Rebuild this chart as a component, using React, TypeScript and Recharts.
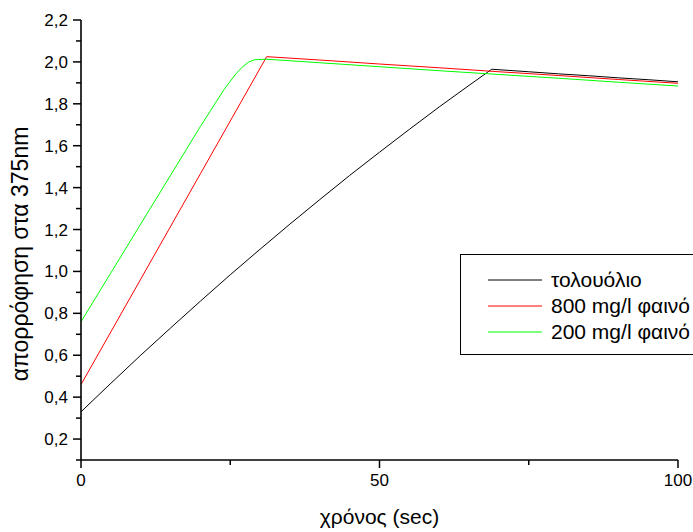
import React from 'react';
import { LineChart, Line, XAxis, YAxis, Label } from 'recharts';

// τολουόλιο
const tolueneTime = [0, 5, 10, 15, 20, 25, 30, 35, 40, 45, 50, 55, 60, 65, 68.8, 75, 80, 85, 90, 95, 100];
const tolueneAbs = [0.33, 0.466, 0.6, 0.73, 0.858, 0.984, 1.106, 1.226, 1.343, 1.458, 1.569, 1.678, 1.785, 1.888, 1.965, 1.953, 1.943, 1.934, 1.924, 1.915, 1.905];

// 800 mg/l φαινόλη
const phenol800Time = [0, 10, 20, 31.1, 40, 50, 60, 70, 80, 90, 100];
const phenol800Abs = [0.46, 0.963, 1.466, 2.025, 2.009, 1.99, 1.972, 1.953, 1.935, 1.916, 1.898];

// 200 mg/l φαινόλη
const phenol200Time = [0, 5, 10, 15, 20, 24, 26, 27, 28, 29, 31, 40, 50, 60, 70, 80, 90, 100];
const phenol200Abs = [0.76, 0.993, 1.226, 1.459, 1.692, 1.87, 1.945, 1.975, 1.998, 2.01, 2.013, 1.996, 1.977, 1.958, 1.94, 1.922, 1.903, 1.885];

const xTicks = [0, 25, 50, 75, 100];
const xLabelled = [0, 50, 100];
const yTicks = [0.1, 0.2, 0.3, 0.4, 0.5, 0.6, 0.7, 0.8, 0.9, 1.0, 1.1, 1.2, 1.3, 1.4, 1.5, 1.6, 1.7, 1.8, 1.9, 2.0, 2.1, 2.2];

// legend labels as they appear (cut at the right edge of the figure)
const legendLabels = ['τολουόλιο', '800 mg/l φαινό', '200 mg/l φαινό'];

const toPoints = (t: number[], v: number[]) => t.map((x, i) => ({ t: x, a: v[i] }));

const series = [
  { name: legendLabels[0], color: '#000000', data: toPoints(tolueneTime, tolueneAbs) },
  { name: legendLabels[1], color: '#ff0000', data: toPoints(phenol800Time, phenol800Abs) },
  { name: legendLabels[2], color: '#00ff00', data: toPoints(phenol200Time, phenol200Abs) },
];

const FONT = '"Liberation Sans", Arial, sans-serif';

const XTick = (props: any) => {
  const { x, y, payload } = props;
  const major = xLabelled.includes(payload.value);
  return (
    <g>
      <line x1={x} y1={y} x2={x} y2={y + (major ? 8 : 5)} stroke="#000" strokeWidth={1.5} />
      {major && (
        <text x={x} y={y + 26} textAnchor="middle" fontSize={17} fontFamily={FONT} fill="#000">
          {payload.value}
        </text>
      )}
    </g>
  );
};

const YTick = (props: any) => {
  const { x, y, payload } = props;
  const v = payload.value as number;
  const major = Math.round(v * 10) % 2 === 0;
  return (
    <g>
      <line x1={x} y1={y} x2={x - (major ? 8 : 5)} y2={y} stroke="#000" strokeWidth={1.5} />
      {major && (
        <text x={x - 13} y={y + 6} textAnchor="end" fontSize={17} fontFamily={FONT} fill="#000">
          {v.toFixed(1).replace('.', ',')}
        </text>
      )}
    </g>
  );
};

const LegendBox = () => (
  <div
    style={{
      position: 'absolute',
      left: 460,
      top: 254,
      width: 233,
      height: 101,
      boxSizing: 'border-box',
      border: '1px solid #000',
      borderRight: 'none',
      background: '#fff',
      overflow: 'hidden',
      paddingTop: 12,
      fontFamily: FONT,
      fontSize: 21,
    }}
  >
    {series.map((s) => (
      <div key={s.name} style={{ height: 26, display: 'flex', alignItems: 'center', whiteSpace: 'nowrap' }}>
        <svg width={90} height={26} style={{ flex: 'none' }}>
          <line x1={27} y1={13} x2={81} y2={13} stroke={s.color} strokeWidth={1} />
        </svg>
        <span style={{ color: '#000' }}>{s.name}</span>
      </div>
    ))}
  </div>
);

export default function App() {
  return (
    <div style={{ position: 'absolute', left: 0, top: 0, width: 693, height: 532, background: '#fff' }}>
      <LineChart
        width={693}
        height={532}
        margin={{ top: 20, right: 15, bottom: 42, left: 0 }}
        style={{ fontFamily: FONT }}
      >
        <XAxis
          dataKey="t"
          type="number"
          domain={[0, 100]}
          ticks={xTicks}
          interval={0}
          height={30}
          tickSize={0}
          tickMargin={0}
          tickLine={false}
          tick={<XTick />}
          axisLine={{ stroke: '#000', strokeWidth: 1.6 }}
          allowDataOverflow
        >
          <Label value="χρόνος (sec)" position="center" dy={42} fontSize={21} fill="#000" fontFamily={FONT} />
        </XAxis>
        <YAxis
          dataKey="a"
          type="number"
          domain={[0.1, 2.2]}
          ticks={yTicks}
          interval={0}
          width={81}
          tickSize={0}
          tickMargin={0}
          tickLine={false}
          tick={<YTick />}
          axisLine={{ stroke: '#000', strokeWidth: 1.6 }}
          allowDataOverflow
        >
          <Label value="απορρόφηση στα 375nm" position="center" angle={-90} dx={-21} dy={14} fontSize={23} fill="#000" fontFamily={FONT} />
        </YAxis>
        {series.map((s) => (
          <Line
            key={s.name}
            data={s.data}
            dataKey="a"
            name={s.name}
            type="linear"
            stroke={s.color}
            strokeWidth={1}
            dot={false}
            activeDot={false}
            isAnimationActive={false}
          />
        ))}
      </LineChart>
      <LegendBox />
    </div>
  );
}
